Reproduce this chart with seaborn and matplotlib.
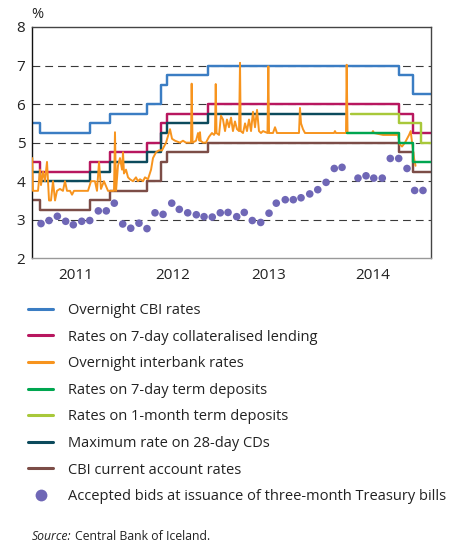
import matplotlib
matplotlib.use("Agg")
import matplotlib.pyplot as plt
from matplotlib.lines import Line2D
import pandas as pd
import seaborn as sns

# ---------------- data (time in decimal years, rates in %) ----------------
policy_t = [2011.000, 2011.080, 2011.597, 2011.804, 2012.189, 2012.328, 2012.390,
            2012.820, 2014.792, 2014.934, 2015.123]
overnight_cbi = [5.50, 5.25, 5.50, 5.75, 6.00, 6.50, 6.75, 7.00, 6.75, 6.25, 6.25]
lending_7day = [4.50, 4.25, 4.50, 4.75, 5.00, 5.50, 5.75, 6.00, 5.75, 5.25, 5.25]
current_account = [3.50, 3.25, 3.50, 3.75, 4.00, 4.50, 4.75, 5.00, 4.75, 4.25, 4.25]

cd_t = [2011.000, 2011.080, 2011.597, 2011.804, 2012.189, 2012.328, 2012.390,
        2012.820, 2014.234]
cd_28day = [4.25, 4.00, 4.25, 4.50, 4.75, 5.25, 5.50, 5.75, 5.75]

term7_t = [2014.254, 2014.792, 2014.934, 2015.123]
term7_dep = [5.25, 5.00, 4.50, 4.50]
term1m_t = [2014.296, 2014.792, 2015.017, 2015.123]
term1m_dep = [5.75, 5.50, 5.00, 5.00]

interbank_t = [
    2011.000, 2011.007, 2011.059, 2011.080, 2011.090, 2011.111, 2011.131, 2011.152,
    2011.173, 2011.193, 2011.214, 2011.235, 2011.255, 2011.286, 2011.317, 2011.338,
    2011.359, 2011.390, 2011.411, 2011.431, 2011.493, 2011.576, 2011.607, 2011.648,
    2011.669, 2011.690, 2011.710, 2011.741, 2011.783, 2011.845, 2011.855, 2011.866,
    2011.886, 2011.907, 2011.928, 2011.938, 2011.948, 2011.969, 2011.990, 2012.010,
    2012.041, 2012.072, 2012.093, 2012.114, 2012.145, 2012.165, 2012.196, 2012.228,
    2012.248, 2012.279, 2012.310, 2012.341, 2012.383, 2012.424, 2012.445, 2012.476,
    2012.527, 2012.558, 2012.589, 2012.641, 2012.648, 2012.657, 2012.693, 2012.714,
    2012.729, 2012.734, 2012.741, 2012.765, 2012.796, 2012.827, 2012.858, 2012.879,
    2012.889, 2012.897, 2012.905, 2012.931, 2012.951, 2012.972, 2012.993, 2013.013,
    2013.034, 2013.055, 2013.075, 2013.096, 2013.117, 2013.138, 2013.148, 2013.155,
    2013.179, 2013.200, 2013.220, 2013.241, 2013.262, 2013.282, 2013.303, 2013.324,
    2013.344, 2013.365, 2013.386, 2013.432, 2013.441, 2013.448, 2013.489, 2013.510,
    2013.530, 2013.758, 2013.768, 2013.779, 2013.799, 2013.820, 2014.120, 2014.130,
    2014.140, 2014.244, 2014.251, 2014.260, 2014.513, 2014.523, 2014.534, 2014.627,
    2014.782, 2014.802, 2014.823, 2014.854, 2014.875, 2014.896, 2014.913, 2014.927,
    2014.947, 2014.963]
interbank = [
    4.60, 3.75, 3.75, 4.30, 3.90, 4.25, 4.00, 4.50,
    3.50, 3.50, 4.00, 3.50, 3.75, 3.80, 3.75, 4.00,
    3.75, 3.75, 3.65, 3.75, 3.75, 3.75, 4.00, 4.00,
    3.75, 4.50, 3.80, 4.00, 3.75, 3.75, 5.27, 3.75,
    4.40, 4.60, 4.30, 4.75, 4.20, 4.30, 4.10, 4.05,
    4.00, 4.10, 4.00, 4.05, 4.00, 4.10, 4.05, 4.30,
    4.60, 4.75, 4.80, 4.80, 5.00, 5.35, 5.10, 5.05,
    5.00, 5.05, 5.00, 5.00, 6.53, 5.00, 5.05, 5.25,
    5.05, 5.27, 5.05, 5.00, 5.00, 5.15, 5.25, 5.20,
    5.25, 6.52, 5.25, 5.20, 5.70, 5.60, 5.30, 5.60,
    5.40, 5.65, 5.30, 5.55, 5.35, 5.30, 7.07, 5.30,
    5.25, 5.50, 5.30, 5.60, 5.30, 5.80, 5.40, 5.85,
    5.30, 5.25, 5.30, 5.25, 6.98, 5.25, 5.25, 5.40,
    5.25, 5.25, 5.90, 5.50, 5.35, 5.25, 5.25, 5.30,
    5.25, 5.25, 7.02, 5.25, 5.25, 5.30, 5.25, 5.20,
    5.20, 4.95, 4.90, 5.00, 5.10, 5.20, 5.30, 5.00,
    4.60, 4.40]

tbill_t = [2011.090, 2011.173, 2011.259, 2011.345, 2011.424, 2011.511, 2011.594,
           2011.683, 2011.765, 2011.848, 2011.935, 2012.018, 2012.103, 2012.186,
           2012.269, 2012.352, 2012.442, 2012.520, 2012.607, 2012.696, 2012.776,
           2012.861, 2012.944, 2013.024, 2013.114, 2013.192, 2013.275, 2013.362,
           2013.448, 2013.523, 2013.616, 2013.699, 2013.779, 2013.869, 2013.952,
           2014.038, 2014.123, 2014.203, 2014.368, 2014.451, 2014.531, 2014.619,
           2014.702, 2014.789, 2014.875, 2014.954, 2015.040]
tbill = [2.90, 2.98, 3.09, 2.96, 2.87, 2.96, 2.98, 3.23, 3.23, 3.43, 2.89, 2.78,
         2.91, 2.77, 3.18, 3.14, 3.43, 3.27, 3.18, 3.13, 3.08, 3.07, 3.18, 3.19,
         3.08, 3.19, 2.98, 2.93, 3.17, 3.43, 3.52, 3.52, 3.57, 3.67, 3.78, 3.97,
         4.33, 4.36, 4.08, 4.14, 4.08, 4.08, 4.59, 4.59, 4.33, 3.76, 3.76]

year_ticks = [2011, 2012, 2013, 2014, 2015]
year_label_pos = [2011.447, 2012.452, 2013.440, 2014.521]
year_labels = ["2011", "2012", "2013", "2014"]
x_end = 2015.123

labels = ["Overnight CBI rates", "Rates on 7-day collateralised lending",
          "Overnight interbank rates", "Rates on 7-day term deposits",
          "Rates on 1-month term deposits", "Maximum rate on 28-day CDs",
          "CBI current account rates",
          "Accepted bids at issuance of three-month Treasury bills"]

C_BLUE = "#3b7dc3"
C_MAG = "#b8175f"
C_ORANGE = "#f7941e"
C_GREEN = "#00a650"
C_LGREEN = "#a8c83a"
C_TEAL = "#0c4a5c"
C_BROWN = "#7c4d47"
C_PURPLE = "#6f67b6"

# ---------------- figure ----------------
sns.set_style("white")
plt.rcParams["font.family"] = ["Open Sans", "DejaVu Sans"]
plt.rcParams["axes.unicode_minus"] = False

W, H = 459, 544
fig = plt.figure(figsize=(W / 100, H / 100), dpi=100)
L, R, T, B = 32.3, 431, 27, 258.3
ax = fig.add_axes([L / W, 1 - B / H, (R - L) / W, (B - T) / H])

# dashed grid lines
for yv in [3, 4, 5, 6, 7]:
    ax.axhline(yv, color="#3a3a3a", lw=0.8, ls=(0, (7, 4.5)), zorder=0.5)

LW = 1.75
def steps(t, v, color, z):
    d = pd.DataFrame({"t": t, "v": v})
    sns.lineplot(data=d, x="t", y="v", ax=ax, color=color, lw=LW,
                 drawstyle="steps-post", estimator=None, sort=False, zorder=z)

steps(policy_t, overnight_cbi, C_BLUE, 2)
steps(policy_t, lending_7day, C_MAG, 2)
steps(cd_t, cd_28day, C_TEAL, 2)
steps(policy_t, current_account, C_BROWN, 2)
sns.lineplot(x=interbank_t, y=interbank, ax=ax, color=C_ORANGE, lw=1.4,
             estimator=None, sort=False, zorder=3)
steps(term7_t, term7_dep, C_GREEN, 4)
steps(term1m_t, term1m_dep, C_LGREEN, 4)
sns.scatterplot(x=tbill_t, y=tbill, ax=ax, color=C_PURPLE, s=30,
                edgecolor="none", zorder=5)

ax.set_xlim(2011.0, x_end)
ax.set_ylim(2, 8)
ax.set_xlabel("")
ax.set_ylabel("")
ax.set_yticks([2, 3, 4, 5, 6, 7, 8])
ax.set_yticklabels(["2", "3", "4", "5", "6", "7", "8"])
ax.tick_params(axis="y", length=0, pad=5, labelsize=11, labelcolor="#222222")
ax.set_xticks(year_ticks + [x_end])
ax.set_xticklabels([""] * (len(year_ticks) + 1))
ax.set_xticks(year_label_pos, minor=True)
ax.set_xticklabels(year_labels, minor=True)
ax.tick_params(axis="x", which="major", length=6, width=1, color="#777777",
               direction="out")
ax.tick_params(axis="x", which="minor", length=0, pad=7, labelsize=11,
               labelcolor="#222222")
for side in ["top", "right"]:
    ax.spines[side].set_color("#444444")
    ax.spines[side].set_linewidth(1.0)
ax.spines["left"].set_color("#111111")
ax.spines["left"].set_linewidth(1.0)
ax.spines["bottom"].set_color("#999999")
ax.spines["bottom"].set_linewidth(1.0)

fig.text(31 / W, 1 - 14 / H, "%", ha="left", va="center", fontsize=10.5,
         color="#222222")

# legend
colors = [C_BLUE, C_MAG, C_ORANGE, C_GREEN, C_LGREEN, C_TEAL, C_BROWN]
handles = [Line2D([], [], color=c, lw=2.2) for c in colors]
handles.append(Line2D([], [], color=C_PURPLE, marker="o", ls="none",
                      markersize=8.5, markeredgewidth=0))
FS = 10.5
fs_px = FS * 100 / 72
leg = fig.legend(handles, labels, loc="upper left",
                 bbox_to_anchor=(28 / W, 1 - 303 / H),
                 frameon=False, fontsize=FS, borderpad=0, borderaxespad=0,
                 handlelength=25 / fs_px, handletextpad=15 / fs_px,
                 labelspacing=0.795)
for t in leg.get_texts():
    t.set_color("#222222")

src1 = fig.text(31.7 / W, 1 - 537 / H, "Source:", style="italic", fontsize=8.8,
                ha="left", va="center", color="#222222")
fig.canvas.draw()
bb = src1.get_window_extent(renderer=fig.canvas.get_renderer())
fig.text((bb.x1 + 3.5) / W, 1 - 537 / H, "Central Bank of Iceland.", fontsize=8.8,
         ha="left", va="center", color="#222222")

fig.savefig("out.png", dpi=100)
